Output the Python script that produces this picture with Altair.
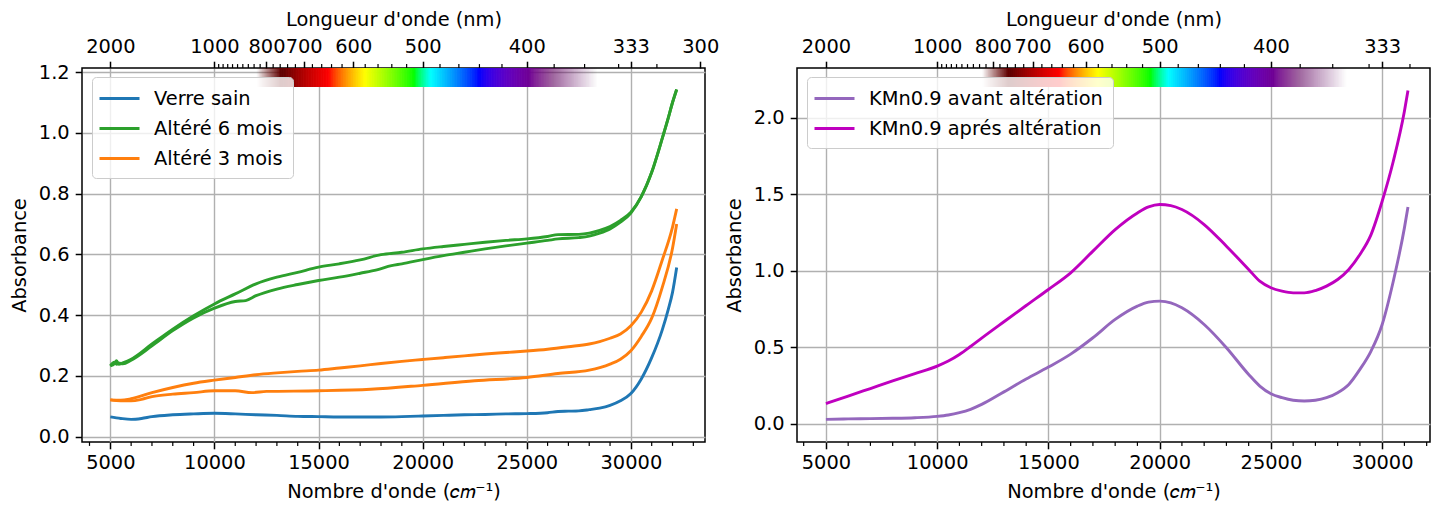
import altair as alt
import pandas as pd

FONT = "DejaVu Sans"
FS = 19.4

# ---------------- data ----------------
# Left panel
verre_wn = [5000, 5500, 6000, 6500, 7000, 8000, 9000, 10000, 11000, 12000, 13000, 14000, 15000,
            16000, 17000, 18000, 19000, 20000, 21000, 22000, 23000, 24000, 25000, 26000, 26500,
            27000, 27500, 28000, 28500, 29000, 29500, 30000, 30500, 31000, 31500, 31800, 32000, 32200]
verre_a = [0.065, 0.060, 0.057, 0.060, 0.066, 0.072, 0.075, 0.077, 0.075, 0.072, 0.070, 0.067, 0.066,
           0.065, 0.065, 0.065, 0.066, 0.068, 0.070, 0.072, 0.073, 0.075, 0.076, 0.079, 0.083,
           0.084, 0.085, 0.089, 0.094, 0.103, 0.118, 0.142, 0.19, 0.26, 0.35, 0.42, 0.475, 0.557]

g6a_wn = [5000, 5200, 5300, 5400, 5600, 6000, 7000, 8000, 9000, 10000, 11000, 12000, 13000, 14000,
          15000, 16000, 17000, 18000, 19000, 20000, 21000, 22000, 23000, 24000, 25000, 26000, 26500,
          27500, 28000, 28500, 29000, 29500, 30000, 30500, 31000, 31500, 31800, 32000, 32200]
g6a_a = [0.233, 0.240, 0.250, 0.238, 0.243, 0.255, 0.305, 0.354, 0.398, 0.437, 0.470, 0.503, 0.525, 0.541,
         0.558, 0.569, 0.582, 0.599, 0.607, 0.618, 0.626, 0.633, 0.640, 0.646, 0.651, 0.659, 0.665,
         0.666, 0.670, 0.679, 0.692, 0.712, 0.739, 0.79, 0.87, 0.98, 1.05, 1.10, 1.143]

g6b_wn = [5000, 5200, 5300, 5400, 5600, 6000, 7000, 8000, 9000, 10000, 11000, 11500, 12000, 13000,
          14000, 15000, 16000, 17000, 17800, 18500, 19000, 20000, 21000, 22000, 23000, 24000, 25000,
          26000, 26500, 27500, 28000, 28500, 29000, 29500, 30000, 30500, 31000, 31500, 31800, 32000, 32200]
g6b_a = [0.233, 0.245, 0.238, 0.243, 0.240, 0.252, 0.299, 0.349, 0.391, 0.423, 0.445, 0.448, 0.464, 0.486,
         0.501, 0.514, 0.525, 0.538, 0.549, 0.563, 0.569, 0.583, 0.596, 0.607, 0.618, 0.628, 0.637,
         0.646, 0.651, 0.655, 0.660, 0.670, 0.684, 0.706, 0.736, 0.79, 0.87, 0.98, 1.05, 1.10, 1.143]

o3a_wn = [5000, 5500, 6000, 7000, 8000, 9000, 10000, 11000, 12000, 13000, 14000, 15000, 16000, 17000,
          18000, 19000, 20000, 21000, 22000, 23000, 24000, 25000, 26000, 27000, 28000, 28500, 29000,
          29500, 30000, 30500, 31000, 31500, 32000, 32200]
o3a_a = [0.121, 0.120, 0.125, 0.145, 0.162, 0.176, 0.186, 0.195, 0.204, 0.210, 0.215, 0.219, 0.226, 0.233,
         0.241, 0.248, 0.254, 0.260, 0.266, 0.272, 0.277, 0.282, 0.288, 0.296, 0.305, 0.313, 0.324,
         0.338, 0.365, 0.41, 0.48, 0.58, 0.69, 0.75]

o3b_wn = [5000, 5500, 6000, 6500, 7000, 8000, 9000, 10000, 11000, 11800, 12500, 15000, 17500, 20000,
          22500, 25000, 26500, 28000, 29000, 29500, 30000, 30500, 31000, 31500, 32000, 32200]
o3b_a = [0.121, 0.118, 0.118, 0.123, 0.132, 0.140, 0.145, 0.151, 0.151, 0.145, 0.149, 0.151, 0.156, 0.169,
         0.184, 0.195, 0.208, 0.219, 0.239, 0.255, 0.283, 0.330, 0.39, 0.49, 0.62, 0.70]

left_labels = ["Verre sain", "Altéré 6 mois", "Altéré 3 mois"]
left_colors = ["#1f77b4", "#2ca02c", "#ff7f0e"]

# Right panel
kmn_wn = [5000, 6000, 7000, 8000, 9000, 10000, 10500, 11000, 11500, 12000, 13000, 14000, 15000, 16000,
          17000, 18000, 19000, 19500, 20000, 20500, 21000, 22000, 23000, 24000, 24500, 25000, 25500,
          26000, 26500, 27000, 27500, 28000, 28500, 29000, 29500, 30000, 30500, 31000, 31160]
avant_a = [0.028, 0.031, 0.033, 0.035, 0.039, 0.048, 0.057, 0.072, 0.094, 0.126, 0.208, 0.292, 0.370, 0.455,
           0.562, 0.682, 0.769, 0.795, 0.802, 0.791, 0.758, 0.649, 0.497, 0.322, 0.246, 0.196, 0.170,
           0.153, 0.148, 0.153, 0.170, 0.203, 0.257, 0.355, 0.475, 0.649, 0.932, 1.281, 1.418]
apres_a = [0.131, 0.180, 0.230, 0.280, 0.328, 0.377, 0.410, 0.453, 0.505, 0.560, 0.667, 0.773, 0.878, 0.987,
           1.129, 1.270, 1.379, 1.418, 1.434, 1.427, 1.401, 1.303, 1.161, 1.009, 0.932, 0.889, 0.867,
           0.856, 0.856, 0.871, 0.900, 0.943, 1.009, 1.107, 1.237, 1.455, 1.717, 2.044, 2.179]

right_labels = ["KMn0.9 avant altération", "KMn0.9 aprés altération"]
right_colors = ["#9467bd", "#bf00bf"]

# Axis ticks
bottom_major = [5000, 10000, 15000, 20000, 25000, 30000]
bottom_minor = [v for v in range(4000, 34000, 1000) if v % 5000 != 0]
top_major_nm = [2000, 1000, 800, 700, 600, 500, 400, 1e7 / 30000, 300]
top_minor_nm = [v for v in range(320, 1000, 20) if v not in (400, 500, 600, 700, 800)]
left_yticks = [0.0, 0.2, 0.4, 0.6, 0.8, 1.0, 1.2]
right_yticks = [0.0, 0.5, 1.0, 1.5, 2.0]


# ---------------- helpers ----------------
def wavelength_rgb(wl, gamma=0.8):
    w = min(max(wl, 380.0), 750.0)
    if w <= 440:
        att = 0.3 + 0.7 * (w - 380) / 60
        r, g, b = ((440 - w) / 60 * att) ** gamma, 0.0, att ** gamma
    elif w <= 490:
        r, g, b = 0.0, ((w - 440) / 50) ** gamma, 1.0
    elif w <= 510:
        r, g, b = 0.0, 1.0, ((510 - w) / 20) ** gamma
    elif w <= 580:
        r, g, b = ((w - 510) / 70) ** gamma, 1.0, 0.0
    elif w <= 645:
        r, g, b = 1.0, ((645 - w) / 65) ** gamma, 0.0
    else:
        att = 0.3 + 0.7 * (750 - w) / 105
        r, g, b = att ** gamma, 0.0, 0.0
    if wl > 760:
        a = max(0.0, 1 - (wl - 760) / 72)
    elif wl < 398:
        a = max(0.0, (wl - 352) / 46)
    else:
        a = 1.0
    return "#%02x%02x%02x" % (int(r * 255), int(g * 255), int(b * 255)), a


def spectrum_df():
    rows = []
    step = 30
    for wn in range(11800, 28600, step):
        col, a = wavelength_rgb(1e7 / (wn + step))
        # each rect overlaps its neighbour by one step: use the alpha that composites to `a`
        a2 = 1 - (1 - min(a, 0.999)) ** 0.5 if a < 1 else 1.0
        rows.append({"x0": wn, "x1": wn + 2 * step, "col": col, "alpha": a2})
    return pd.DataFrame(rows)


def long_df(series):
    rows = []
    for label, curve, wns, vals in series:
        for w, v in zip(wns, vals):
            rows.append({"wn": w, "A": v, "label": label, "curve": curve})
    return pd.DataFrame(rows)


H = 374


def panel(df, labels, colors, xdom, ydom, yticks, width):
    def xs():
        return alt.Scale(domain=xdom, nice=False, zero=False)

    top_vals = [1e7 / nm for nm in top_major_nm if xdom[0] <= 1e7 / nm <= xdom[1]]
    top_minor = [1e7 / nm for nm in top_minor_nm if xdom[0] <= 1e7 / nm <= xdom[1]]
    bot_minor = [v for v in bottom_minor if xdom[0] <= v <= xdom[1]]

    spec = alt.Chart(spectrum_df()).mark_rect().encode(
        x=alt.X("x0:Q", scale=xs(), axis=alt.Axis(
            orient="top", values=top_vals, labelExpr="'' + round(10000000 / datum.value)",
            title="Longueur d'onde (nm)", grid=False, titlePadding=7, labelPadding=5)),
        x2="x1:Q",
        y=alt.value(0), y2=alt.value(19),
        color=alt.Color("col:N", scale=None),
        opacity=alt.Opacity("alpha:Q", scale=None),
    )

    lines = alt.Chart(df).mark_line(strokeWidth=2.9, interpolate="monotone", clip=True).encode(
        x=alt.X("wn:Q", scale=xs(), axis=alt.Axis(
            orient="bottom", values=bottom_major, format="d", grid=True,
            title="Nombre d'onde (\U0001D450\U0001D45A\u207B\u00B9)", titlePadding=10, labelPadding=5)),
        y=alt.Y("A:Q", scale=alt.Scale(domain=ydom, nice=False, zero=False), axis=alt.Axis(
            values=yticks, format=".1f", grid=True, title="Absorbance", titlePadding=9, labelPadding=6)),
        color=alt.Color("label:N", scale=alt.Scale(domain=labels, range=colors), legend=alt.Legend(
            orient="none", legendX=10, legendY=9, title=None,
            symbolType="M-2,0H2", symbolSize=400, symbolStrokeWidth=2.9, symbolOffset=6,
            labelFont=FONT, labelFontSize=FS, labelColor="black", labelOffset=23, labelLimit=500,
            padding=10, rowPadding=9, fillColor="rgba(255,255,255,0.8)", strokeColor="#cccccc",
            cornerRadius=4)),
        detail="curve:N",
    )

    top_ticks = alt.Chart(pd.DataFrame({"wn": top_minor})).mark_rule(
        color="black", strokeWidth=1.2, clip=False).encode(
        x=alt.X("wn:Q", scale=xs(), axis=None), y=alt.value(0), y2=alt.value(-3.9))
    bot_ticks = alt.Chart(pd.DataFrame({"wn": bot_minor})).mark_rule(
        color="black", strokeWidth=1.2, clip=False).encode(
        x=alt.X("wn:Q", scale=xs(), axis=None), y=alt.value(H), y2=alt.value(H + 3.9))

    return alt.layer(spec, lines, top_ticks, bot_ticks).resolve_scale(x="independent").properties(
        width=width, height=H)


left_df = long_df([
    ("Verre sain", "v", verre_wn, verre_a),
    ("Altéré 6 mois", "g6a", g6a_wn, g6a_a),
    ("Altéré 6 mois", "g6b", g6b_wn, g6b_a),
    ("Altéré 3 mois", "o3a", o3a_wn, o3a_a),
    ("Altéré 3 mois", "o3b", o3b_wn, o3b_a),
])
right_df = long_df([
    ("KMn0.9 avant altération", "av", kmn_wn, avant_a),
    ("KMn0.9 aprés altération", "ap", kmn_wn, apres_a),
])

left = panel(left_df, left_labels, left_colors, [3640, 33560], [-0.0175, 1.2135], left_yticks, 623)
right = panel(right_df, right_labels, right_colors, [3700, 32150], [-0.12, 2.327], right_yticks, 633)

chart = alt.hconcat(left, right, spacing=3).resolve_scale(color="independent").configure_view(
    stroke="black", strokeWidth=1.5
).configure_axis(
    labelFont=FONT, labelFontSize=FS, titleFont=FONT, titleFontSize=FS, titleFontWeight="normal",
    labelColor="black", titleColor="black", tickColor="black", tickWidth=1.5, tickSize=6.8,
    domain=False, gridColor="#b0b0b0", gridWidth=1.4, labelFlush=False, labelOverlap=False,
    labelBound=False
).properties(padding={"left": 0, "top": 0, "right": 0, "bottom": 0})

chart.save("out.html", embed_options={"renderer": "svg", "actions": False})
